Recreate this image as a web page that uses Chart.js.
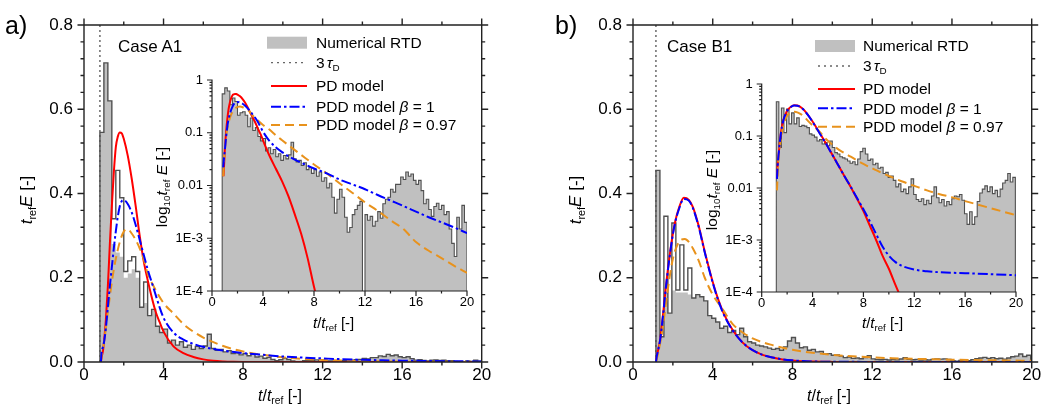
<!DOCTYPE html>
<html><head><meta charset="utf-8">
<script src="https://cdn.jsdelivr.net/npm/chart.js@4.4.1/dist/chart.umd.min.js"></script>
<style>
html,body{margin:0;padding:0;background:#fff;}
body{width:1051px;height:412px;position:relative;overflow:hidden;font-family:"Liberation Sans",Arial,sans-serif;color:#000;}
canvas{position:absolute;}
.t{position:absolute;white-space:nowrap;line-height:1;}
.rot{transform:translate(-50%,-50%) rotate(-90deg);}
.sub{font-size:0.64em;vertical-align:-0.32em;}
#sw{position:absolute;left:0;top:0;}
</style></head><body>
<canvas id="mainA"></canvas><canvas id="insetA"></canvas>
<canvas id="mainB"></canvas><canvas id="insetB"></canvas>
<svg id="sw" width="1051" height="412"></svg>
<div id="ov"></div>
<script>
// ---------- tick labels ----------
const xTickValues = [0, 4, 8, 12, 16, 20];
const xTickLabels = ['0', '4', '8', '12', '16', '20'];
const mainYTickValues = [0, 0.2, 0.4, 0.6, 0.8];
const mainYTickLabels = ['0.0', '0.2', '0.4', '0.6', '0.8'];
const insetYTickValues = [0.0001, 0.001, 0.01, 0.1, 1];
const insetYTickLabels = ['1E-4', '1E-3', '0.01', '0.1', '1'];

// ---------- Case A1 ----------
const binStartA = 0.8, binWidthA = 0.2, tau3A = 0.8;
const rtdA = [
  0.545, 0.71, 0.62, 0.34, 0.455, 0.39, 0.215, 0.24, 0.25, 0.215,
  0.13, 0.19, 0.11, 0.125, 0.085, 0.07, 0.078, 0.045, 0.052, 0.04,
  0.048, 0.035, 0.04, 0.03, 0.037, 0.032, 0.038, 0.066, 0.032, 0.028,
  0.03, 0.024, 0.027, 0.02, 0.022, 0.017, 0.02, 0.015, 0.018, 0.012,
  0.014, 0.009, 0.011, 0.006, 0.003, 0.0055, 0.0085, 0.006, 0.0025, 0.0013,
  0.0016, 0.0028, 0.0035, 0.0042, 0.005, 0.000001, 0.0028, 0.0022, 0.0026, 0.0017,
  0.0021, 0.0032, 0.0024, 0.0045, 0.0055, 0.006, 0.0085, 0.0075, 0.0105, 0.0105,
  0.0145, 0.013, 0.018, 0.015, 0.0165, 0.0125, 0.0105, 0.0125, 0.008, 0.0045,
  0.0055, 0.0035, 0.0026, 0.004, 0.0046, 0.0035, 0.0042, 0.0028, 0.0032, 0.0015,
  0.0008, 0.00045, 0.0025, 0.0015, 0.0042, 0.002
];
const rtdFillHeadA = [0.545, 0.71, 0.62, 0.28, 0.26, 0.25, 0.2, 0.21, 0.22, 0.2, 0.13, 0.14, 0.11];
const tPdA = [0.85, 0.9, 0.95, 1.0, 1.1, 1.2, 1.3, 1.4, 1.5, 1.6, 1.7, 1.8, 1.9, 2.0,
  2.2, 2.4, 2.6, 2.8, 3.0, 3.2, 3.4, 3.6, 3.8, 4.0,
  4.5, 5.0, 5.5, 6.0, 6.5, 7.0, 7.5, 8.0, 8.5, 9.0,
  10, 12, 14, 16, 18, 20];
const pdA = [0, 0.015, 0.025, 0.045, 0.10, 0.18, 0.28, 0.37, 0.45, 0.51, 0.535, 0.545, 0.543, 0.53,
  0.49, 0.435, 0.37, 0.30, 0.24, 0.195, 0.155, 0.12, 0.095, 0.072,
  0.037, 0.021, 0.012, 0.0062, 0.0028, 0.0012, 0.00042, 0.00012, 0.00004, 0.000012,
  1e-6, 1e-8, 1e-9, 1e-10, 1e-11, 1e-12];
const tPdd1A = [0.85, 0.88, 0.95, 1.0, 1.1, 1.2, 1.3, 1.4, 1.5, 1.6, 1.7, 1.8, 1.9, 2.0,
  2.2, 2.4, 2.6, 2.8, 3.0, 3.2, 3.4, 3.6, 3.8, 4.0,
  4.5, 5, 5.5, 6,
  7, 8, 9, 10, 11, 12, 13, 14, 15, 16, 17, 18, 19, 20];
const pdd1A = [0, 0.022, 0.035, 0.045, 0.08, 0.13, 0.18, 0.225, 0.27, 0.31, 0.345, 0.37, 0.382, 0.384,
  0.375, 0.355, 0.325, 0.29, 0.255, 0.22, 0.19, 0.16, 0.13, 0.105,
  0.07, 0.053, 0.043, 0.036,
  0.027, 0.021, 0.017, 0.013, 0.0105, 0.0085, 0.0066, 0.0052, 0.0041, 0.0032, 0.0025, 0.002, 0.0016, 0.00125];
const tPdd097A = [0.85, 0.88, 0.95, 1.0, 1.1, 1.2, 1.3, 1.4, 1.5, 1.6,
  1.8, 2.0, 2.2, 2.4, 2.6, 2.8, 3.0, 3.2, 3.5, 4.0,
  4.5, 5, 5.5, 6,
  7, 8, 9, 10, 11, 12, 13, 14, 15, 16, 17, 18, 19, 20];
const pdd097A = [0, 0.015, 0.03, 0.045, 0.08, 0.12, 0.155, 0.19, 0.22, 0.245,
  0.285, 0.31, 0.315, 0.305, 0.29, 0.27, 0.245, 0.21, 0.18, 0.14,
  0.115, 0.09, 0.072, 0.058,
  0.038, 0.025, 0.017, 0.011, 0.0073, 0.0048, 0.0033, 0.0022, 0.0015, 0.00085, 0.00058, 0.00042, 0.0003, 0.00022];

// ---------- Case B1 ----------
const binStartB = 1.15, binWidthB = 0.2, tau3B = 1.15;
const rtdB = [
  0.455, 0.06, 0.346, 0.116, 0.33, 0.171, 0.278, 0.171, 0.223, 0.152,
  0.16, 0.155, 0.145, 0.11, 0.104, 0.095, 0.08, 0.085, 0.07, 0.075,
  0.065, 0.08, 0.06, 0.048, 0.045, 0.04, 0.038, 0.036, 0.033, 0.03,
  0.032, 0.028, 0.036, 0.05, 0.058, 0.045, 0.034, 0.036, 0.028, 0.03,
  0.024, 0.025, 0.019, 0.02, 0.016, 0.017, 0.014, 0.0105, 0.012, 0.0085,
  0.0095, 0.0078, 0.0105, 0.015, 0.0075, 0.006, 0.0055, 0.0062, 0.0048, 0.0058,
  0.005, 0.007, 0.0105, 0.0065, 0.0052, 0.006, 0.0045, 0.0055, 0.0048, 0.0062,
  0.007, 0.0068, 0.0075, 0.0058, 0.0032, 0.002, 0.0035, 0.002, 0.0028, 0.0055,
  0.008, 0.0095, 0.011, 0.0085, 0.0105, 0.0078, 0.009, 0.0068, 0.0095, 0.0125,
  0.014, 0.019, 0.013, 0.016
];
const rtdFillHeadB = [0.455, 0.06, 0.165, 0.116, 0.17, 0.165, 0.165, 0.165, 0.16];
const tPdB = [1.15, 1.2, 1.25, 1.36, 1.5, 1.7, 1.95, 2.1, 2.3, 2.55,
  2.8, 3.0, 3.3, 3.6, 4.0, 4.3, 4.6, 5.0, 5.5, 6.0,
  6.5, 7.0, 7.5, 8.0, 8.5, 9.0, 9.5, 10, 10.5, 11,
  12, 14, 17, 20];
const pdB = [0, 0.015, 0.026, 0.052, 0.11, 0.2, 0.29, 0.33, 0.365, 0.39,
  0.385, 0.368, 0.322, 0.262, 0.19, 0.145, 0.11, 0.076, 0.046, 0.028,
  0.017, 0.0105, 0.0062, 0.0036, 0.0019, 0.001, 0.0005, 0.00028, 0.00014, 0.00007,
  0.00001, 1e-6, 1e-8, 1e-10];
const tPdd1B = [1.15, 1.2, 1.25, 1.36, 1.5, 1.7, 1.95, 2.1, 2.3, 2.55,
  2.8, 3.0, 3.3, 3.6, 4.0, 4.3, 4.6, 5.0, 5.5, 6.0,
  6.5, 7.0, 7.5, 8.0, 8.5, 9.0, 9.5, 10, 10.5, 11,
  12, 13, 14, 16, 18, 20];
const pdd1B = [0, 0.015, 0.026, 0.052, 0.108, 0.198, 0.288, 0.328, 0.362, 0.387,
  0.383, 0.366, 0.32, 0.26, 0.188, 0.143, 0.108, 0.075, 0.046, 0.028,
  0.017, 0.0106, 0.0064, 0.0039, 0.0023, 0.0013, 0.00075, 0.0005, 0.00038, 0.00032,
  0.00027, 0.00025, 0.00024, 0.00023, 0.00022, 0.00021];
const tPdd097B = [1.15, 1.2, 1.3, 1.45, 1.6, 1.8, 2.0, 2.2, 2.4, 2.6,
  2.8, 3.0, 3.3, 3.6, 4.0, 4.5, 5.0, 5.5, 6, 7,
  8, 9, 10, 11, 12, 13, 14, 15, 16, 17,
  18, 19, 20];
const pdd097B = [0, 0.009, 0.03, 0.068, 0.12, 0.19, 0.245, 0.275, 0.29, 0.292,
  0.285, 0.27, 0.24, 0.2, 0.16, 0.125, 0.09, 0.07, 0.056, 0.04,
  0.029, 0.022, 0.017, 0.0135, 0.011, 0.009, 0.0076, 0.0066, 0.0056, 0.0048,
  0.0041, 0.0035, 0.003];

// ---------- styling ----------
const RED = '#ff0000', BLUE = '#0000ff', ORANGE = '#e8921c', GRAYFILL = '#c0c0c0', OUTLINE = '#505050', AXIS = '#222';
Chart.defaults.font.family = "'Liberation Sans', Arial, sans-serif";

function curvePts(ts, vs) { return ts.map((t, i) => ({x: t, y: vs[i]})); }
function stepPts(start, width, vals, endVal) {
  const p = [{x: start, y: endVal}];
  for (let i = 0; i < vals.length; i++) p.push({x: +(start + i * width).toFixed(4), y: vals[i]});
  p.push({x: +(start + vals.length * width).toFixed(4), y: endVal});
  return p;
}
function withHead(vals, head) { return vals.map((v, i) => i < head.length ? head[i] : v); }

const xMinor = [2, 6, 10, 14, 18];
const mainYMinor = [];
for (let k = 1; k < 20; k++) if (k % 5) mainYMinor.push(+(k * 0.04).toFixed(2));
const logMinor = [];
[1e-4, 1e-3, 1e-2, 1e-1].forEach(d => { for (let m = 2; m <= 9; m++) logMinor.push(m * d); });

function makeFrame(o) {
  return {
    id: 'frame',
    afterDatasetsDraw(chart) {
      const {ctx, chartArea: a} = chart;
      const sx = chart.scales.x, sy = chart.scales.y;
      const has = s => o.sides.indexOf(s) >= 0;
      ctx.save();
      ctx.strokeStyle = o.color; ctx.lineWidth = o.width;
      ctx.beginPath();
      const h = o.width / 2;
      if (has('bottom')) { ctx.moveTo(a.left - h, a.bottom); ctx.lineTo(a.right + h, a.bottom); }
      if (has('top')) { ctx.moveTo(a.left - h, a.top); ctx.lineTo(a.right + h, a.top); }
      if (has('left')) { ctx.moveTo(a.left, a.top - h); ctx.lineTo(a.left, a.bottom + h); }
      if (has('right')) { ctx.moveTo(a.right, a.top - h); ctx.lineTo(a.right, a.bottom + h); }
      const xt = (vals, len) => vals.forEach(v => {
        const px = sx.getPixelForValue(v);
        if (has('bottom')) { ctx.moveTo(px, a.bottom); ctx.lineTo(px, a.bottom + len); }
        if (has('top')) { ctx.moveTo(px, a.top); ctx.lineTo(px, a.top - len); }
      });
      const yt = (vals, len) => vals.forEach(v => {
        const py = sy.getPixelForValue(v);
        if (has('left')) { ctx.moveTo(a.left, py); ctx.lineTo(a.left - len, py); }
        if (has('right')) { ctx.moveTo(a.right, py); ctx.lineTo(a.right + len, py); }
      });
      xt(o.xMajor, o.major); xt(o.xMinor, o.minor); yt(o.yMajor, o.major); yt(o.yMinor, o.minor);
      ctx.stroke();
      ctx.restore();
    }
  };
}

function place(cv, r) {
  cv.width = r.w; cv.height = r.h;
  cv.style.left = r.x + 'px'; cv.style.top = r.y + 'px';
  cv.style.width = r.w + 'px'; cv.style.height = r.h + 'px';
}

function options(rect, area, yBase, yVals, yLabels, fontSize, yPad, xPad) {
  return {
    responsive: false, animation: false, devicePixelRatio: 1, events: [],
    layout: {padding: {left: 0, top: area.y0 - rect.y, right: rect.x + rect.w - area.x1, bottom: 0}},
    elements: {point: {radius: 0, hoverRadius: 0}},
    plugins: {legend: {display: false}, tooltip: {enabled: false}, title: {display: false}},
    scales: {
      x: {type: 'linear', min: 0, max: 20,
        grid: {display: false, drawTicks: false}, border: {display: false},
        afterBuildTicks: s => { s.ticks = xTickValues.map(v => ({value: v})); },
        afterFit: s => { s.height = rect.y + rect.h - area.y1; },
        ticks: {autoSkip: false, maxRotation: 0, padding: xPad, color: '#000', font: {size: fontSize},
          callback: (v, i) => xTickLabels[i]}},
      y: Object.assign({}, yBase, {
        grid: {display: false, drawTicks: false}, border: {display: false},
        afterBuildTicks: s => { s.ticks = yVals.map(v => ({value: v})); },
        afterFit: s => { s.width = area.x0 - rect.x; },
        ticks: {autoSkip: false, padding: yPad, color: '#000', font: {size: fontSize},
          callback: (v, i) => yLabels[i]}})
    }
  };
}

function curveSets(d) {
  return [
    {data: curvePts(d.tPdd1, d.pdd1), borderColor: BLUE, borderDash: [10, 3, 2.5, 3], borderWidth: 2, fill: false, cubicInterpolationMode: 'monotone', order: 1},
    {data: curvePts(d.tPdd097, d.pdd097), borderColor: ORANGE, borderDash: [9, 5], borderWidth: 2, fill: false, cubicInterpolationMode: 'monotone', order: 2},
    {data: curvePts(d.tPd, d.pd), borderColor: RED, borderWidth: 2, fill: false, cubicInterpolationMode: 'monotone', order: 3}
  ];
}

function mainChart(id, rect, area, d) {
  const cv = document.getElementById(id); place(cv, rect);
  return new Chart(cv, {
    type: 'line',
    data: {datasets: curveSets(d).concat([
      {data: stepPts(d.start, d.width, d.rtd, 0), stepped: 'before', borderColor: OUTLINE, borderWidth: 1.4, fill: false, order: 4},
      {data: [{x: d.tau, y: 0}, {x: d.tau, y: 0.8}], borderColor: '#6a6a6a', borderDash: [2, 3], borderWidth: 1.5, fill: false, order: 5},
      {data: stepPts(d.start, d.width, withHead(d.rtd, d.head), 0), stepped: 'before', borderWidth: 0, borderColor: 'rgba(0,0,0,0)', backgroundColor: GRAYFILL, fill: 'origin', order: 6}
    ])},
    options: options(rect, area, {type: 'linear', min: 0, max: 0.8}, mainYTickValues, mainYTickLabels, 17, 11, 3),
    plugins: [makeFrame({sides: ['left', 'bottom', 'top', 'right'], color: AXIS, width: 1.4, major: 6.5, minor: 3.5,
      xMajor: xTickValues, xMinor: xMinor, yMajor: mainYTickValues, yMinor: mainYMinor})]
  });
}

function insetChart(id, rect, area, d) {
  const cv = document.getElementById(id); place(cv, rect);
  return new Chart(cv, {
    type: 'line',
    data: {datasets: curveSets(d).concat([
      {data: stepPts(d.start, d.width, d.rtd, 1e-6), stepped: 'before', borderColor: OUTLINE, borderWidth: 1.1, backgroundColor: GRAYFILL, fill: 'start', order: 4}
    ])},
    options: options(rect, area, {type: 'logarithmic', min: 0.0001, max: 1}, insetYTickValues, insetYTickLabels, 13, 9, 4),
    plugins: [makeFrame({sides: ['left', 'bottom'], color: AXIS, width: 1.2, major: 5, minor: 2.5,
      xMajor: xTickValues, xMinor: xMinor, yMajor: insetYTickValues, yMinor: logMinor})]
  });
}

const dataA = {start: binStartA, width: binWidthA, tau: tau3A, rtd: rtdA, head: rtdFillHeadA,
  tPd: tPdA, pd: pdA, tPdd1: tPdd1A, pdd1: pdd1A, tPdd097: tPdd097A, pdd097: pdd097A};
const dataB = {start: binStartB, width: binWidthB, tau: tau3B, rtd: rtdB, head: rtdFillHeadB,
  tPd: tPdB, pd: pdB, tPdd1: tPdd1B, pdd1: pdd1B, tPdd097: tPdd097B, pdd097: pdd097B};

mainChart('mainA', {x: 0, y: 0, w: 525, h: 412}, {x0: 84, y0: 25, x1: 481.7, y1: 362}, dataA);
insetChart('insetA', {x: 130, y: 60, w: 350, h: 280}, {x0: 212, y0: 80, x1: 467, y1: 291}, dataA);
mainChart('mainB', {x: 525, y: 0, w: 526, h: 412}, {x0: 633, y0: 25, x1: 1031.7, y1: 362}, dataB);
insetChart('insetB', {x: 680, y: 64, w: 360, h: 280}, {x0: 761.7, y0: 84, x1: 1016, y1: 292}, dataB);

// ---------- texts & legend ----------
const ov = document.getElementById('ov');
function txt(html, left, centerY, size, extra) {
  const e = document.createElement('div');
  e.className = 't'; e.innerHTML = html;
  e.style.left = left + 'px'; e.style.top = (centerY - 0.49 * size) + 'px'; e.style.fontSize = size + 'px';
  if (extra) Object.assign(e.style, extra);
  ov.appendChild(e);
}
function rtxt(html, cx, cy, size) {
  const e = document.createElement('div');
  e.className = 't rot'; e.innerHTML = html;
  e.style.left = cx + 'px'; e.style.top = cy + 'px'; e.style.fontSize = size + 'px';
  ov.appendChild(e);
}
const svg = document.getElementById('sw');
const NS = 'http://www.w3.org/2000/svg';
function sEl(tag, attrs) { const e = document.createElementNS(NS, tag); for (const k in attrs) e.setAttribute(k, attrs[k]); svg.appendChild(e); }

const legendLabels = ['Numerical RTD', '3<i style="margin-left:2px">τ</i><span class="sub">D</span>', 'PD model',
  'PDD model <i>β</i> = 1', 'PDD model <i>β</i> = 0.97'];
function legend(sx0, sx1, lx0, tx, ys) {
  sEl('rect', {x: sx0, y: ys[0] - 6, width: sx1 - sx0, height: 12, fill: GRAYFILL});
  sEl('line', {x1: lx0, y1: ys[1], x2: sx1 - 3, y2: ys[1], stroke: '#666', 'stroke-width': 1.3, 'stroke-dasharray': '2 4'});
  sEl('line', {x1: lx0, y1: ys[2], x2: sx1, y2: ys[2], stroke: RED, 'stroke-width': 2});
  sEl('line', {x1: lx0, y1: ys[3], x2: sx1, y2: ys[3], stroke: BLUE, 'stroke-width': 2, 'stroke-dasharray': '10 3 2.5 3'});
  sEl('line', {x1: lx0, y1: ys[4], x2: sx1, y2: ys[4], stroke: ORANGE, 'stroke-width': 2, 'stroke-dasharray': '9 5'});
  legendLabels.forEach((l, i) => txt(l, tx, ys[i], 15.5));
}
legend(267, 307, 271, 316, [42.7, 62.7, 86, 106.7, 125]);
legend(815, 855, 818, 863, [46, 66, 89, 108.3, 126.7]);

txt('a)', 5, 25, 25);
txt('b)', 555, 25, 25);
txt('Case A1', 118, 46.7, 17);
txt('Case B1', 667, 46.7, 17);

const mainYTitle = '<i>t</i><span class="sub">ref</span><i>E</i> [-]';
const mainXTitle = '<i>t</i>/<i>t</i><span class="sub">ref</span> [-]';
const insetYTitle = 'log<span class="sub">10</span><i>t</i><span class="sub">ref</span> <i>E</i> [-]';
const insetXTitle = '<i>t</i>/<i>t</i><span class="sub">ref</span> [-]';
rtxt(mainYTitle, 28, 200, 17);
rtxt(mainYTitle, 577, 200, 17);
txt(mainXTitle, 258, 396, 16);
txt(mainXTitle, 807, 396, 16);
rtxt(insetYTitle, 163, 187, 15.5);
rtxt(insetYTitle, 713, 190, 15.5);
txt(insetXTitle, 313, 322, 15);
txt(insetXTitle, 862, 322, 15);
</script></body></html>
